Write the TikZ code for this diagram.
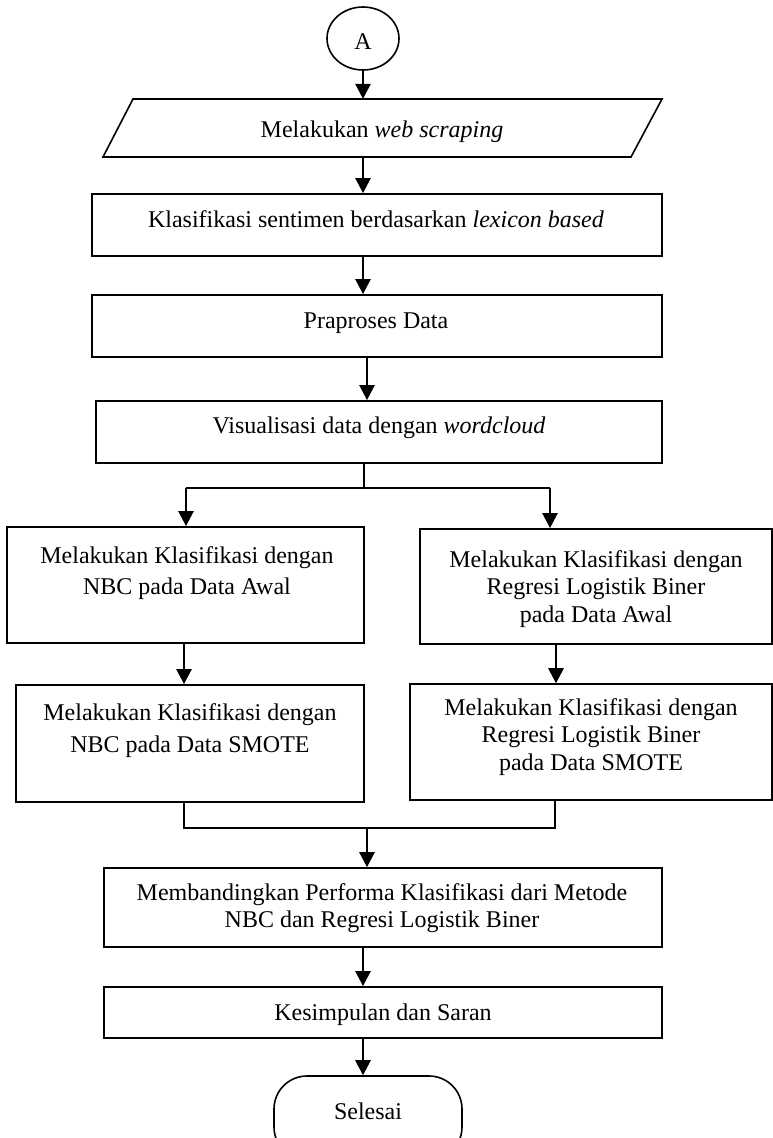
\documentclass[tikz,border=0pt]{standalone}
\usepackage{fontspec}
\setmainfont{Liberation Serif}
\usetikzlibrary{arrows.meta,shapes.geometric}
\newcommand{\mlines}[2]{\fontsize{24}{#1}\selectfont\begin{tabular}[t]{@{}c@{}}#2\end{tabular}}
\begin{document}
\begin{tikzpicture}[x=1pt,y=-1pt,
  box/.style={draw, line width=2pt, inner sep=0pt, rectangle},
  hidden/.style={inner sep=0pt, rectangle},
  txt/.style={anchor=base, inner sep=0pt, font=\fontsize{24}{29}\selectfont},
  conn/.style={line width=1.2pt},
  arr/.style={line width=1.2pt, -{Triangle[width=15.5pt,length=15pt]}},
]
\useasboundingbox (0,0) rectangle (773,1138);
\clip (0,0) rectangle (773,1138);

% connector A
\node[ellipse, draw, line width=1.6pt, minimum width=72pt, minimum height=63pt, inner sep=0pt] (A) at (363,38.5) {};
\node[txt] at (363,49) {A};

% parallelogram
\node[hidden, minimum width=559pt, minimum height=58pt] (par) at (382.5,128) {};
\draw[line width=1.6pt] (133,99) -- (662,99) -- (631,157) -- (103,157) -- cycle;
\node[txt] at (382,137) {Melakukan \textit{web scraping}};

% main boxes
\node[box, minimum width=570pt, minimum height=62pt] (b2) at (377,225) {};
\node[txt] at (376,227) {Klasifikasi sentimen berdasarkan \textit{lexicon based}};

\node[box, minimum width=570pt, minimum height=62pt] (b3) at (377,326) {};
\node[txt] at (376,328) {Praproses Data};

\node[box, minimum width=566pt, minimum height=62pt] (b4) at (379,432) {};
\node[txt] at (379,433) {Visualisasi data dengan \textit{wordcloud}};

\node[box, minimum width=357pt, minimum height=116pt] (L1) at (185.5,585) {};
\node[txt] at (187,563) {\mlines{31}{Melakukan Klasifikasi dengan\\NBC pada Data Awal}};

\node[box, minimum width=352pt, minimum height=115pt] (R1) at (596,586.5) {};
\node[txt] at (596,567) {\mlines{27.5}{Melakukan Klasifikasi dengan\\Regresi Logistik Biner\\pada Data Awal}};

\node[box, minimum width=348pt, minimum height=117pt] (L2) at (190,743.5) {};
\node[txt] at (190,720) {\mlines{32}{Melakukan Klasifikasi dengan\\NBC pada Data SMOTE}};

\node[box, line width=1.6pt, minimum width=362pt, minimum height=116pt] (R2) at (591,742) {};
\node[txt] at (591,715) {\mlines{27.5}{Melakukan Klasifikasi dengan\\Regresi Logistik Biner\\pada Data SMOTE}};

\node[box, line width=1.8pt, minimum width=558pt, minimum height=79pt] (M) at (383,907.5) {};
\node[txt] at (382,900) {\mlines{27}{Membandingkan Performa Klasifikasi dari Metode\\NBC dan Regresi Logistik Biner}};

\node[box, minimum width=558pt, minimum height=51pt] (K) at (383,1012.5) {};
\node[txt] at (383,1020) {Kesimpulan dan Saran};

\node[draw, line width=1.6pt, rounded corners=33pt, minimum width=188pt, minimum height=84pt, inner sep=0pt] (S) at (368,1118) {};
\node[txt] at (368,1119) {Selesai};

% connectors
\draw[arr] (A) -- (A |- par.north);
\draw[arr] (A |- par.south) -- (A |- b2.north);
\draw[arr] (A |- b2.south) -- (A |- b3.north);
\draw[arr] ([xshift=4pt]A.center |- b3.south) -- ([xshift=4pt]A.center |- b4.north);

\coordinate (split) at (364,488);
\coordinate (splitL) at (186,488);
\coordinate (splitR) at (550,488);
\draw[conn] (split |- b4.south) -- (split);
\draw[conn] (splitL) -- (splitR);
\draw[arr] (splitL) -- (splitL |- L1.north);
\draw[arr] (splitR) -- (splitR |- R1.north);

\coordinate (colL) at (184,700);
\coordinate (colR) at (556,700);
\draw[arr] (colL |- L1.south) -- (colL |- L2.north);
\draw[arr] (colR |- R1.south) -- (colR |- R2.north);

\coordinate (mergeL) at (184,828);
\coordinate (mergeR) at (555,828);
\coordinate (merge) at (367,828);
\draw[conn] (mergeL |- L2.south) -- (mergeL) -- (mergeR) -- (mergeR |- R2.south);
\draw[arr] (merge) -- (merge |- M.north);

\draw[arr] (A |- M.south) -- (A |- K.north);
\draw[arr] (A |- K.south) -- (A |- S.north);
\end{tikzpicture}
\end{document}
